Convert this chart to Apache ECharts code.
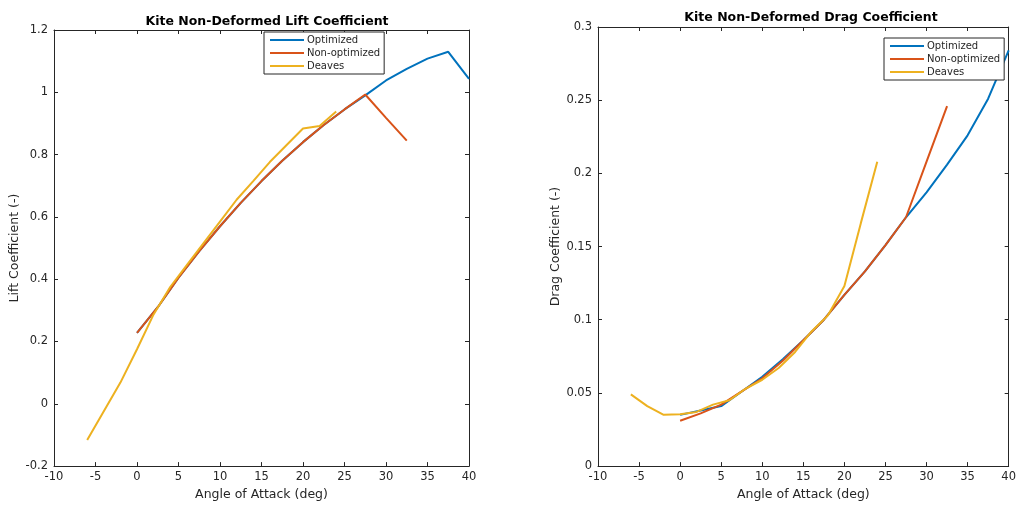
<!DOCTYPE html>
<html>
<head>
<meta charset="utf-8">
<script src="https://cdn.jsdelivr.net/npm/echarts@6/dist/echarts.min.js"></script>
<style>
  html, body { margin: 0; padding: 0; background: #fff; }
  #chart { width: 1019px; height: 506px; }
</style>
</head>
<body>
<div id="chart"></div>
<script>
// Lift coefficient (left panel)
const liftOptX = [0, 2.5, 5, 7.5, 10, 12.5, 15, 17.5, 20, 22.5, 25, 27.5, 30, 32.5, 35, 37.5, 40];
const liftOptY = [0.228, 0.31, 0.405, 0.49, 0.57, 0.645, 0.715, 0.78, 0.84, 0.895, 0.945, 0.99, 1.038, 1.075, 1.108, 1.13, 1.043];
const liftNonX = [0, 2.5, 5, 7.5, 10, 12.5, 15, 17.5, 20, 22.5, 25, 27.5, 30, 32.5];
const liftNonY = [0.228, 0.31, 0.405, 0.49, 0.57, 0.645, 0.715, 0.78, 0.84, 0.895, 0.945, 0.993, 0.918, 0.845];
const liftDeavesX = [-6, -2, 0, 2, 4, 6, 8, 10, 12, 14, 16, 18, 20, 22, 24];
const liftDeavesY = [-0.116, 0.068, 0.175, 0.287, 0.375, 0.445, 0.515, 0.585, 0.655, 0.715, 0.776, 0.83, 0.884, 0.892, 0.938];

// Drag coefficient (right panel)
const dragOptX = [0, 2.5, 5, 7.5, 10, 12.5, 15, 17.5, 20, 22.5, 25, 27.5, 30, 32.5, 35, 37.5, 40];
const dragOptY = [0.035, 0.038, 0.041, 0.051, 0.061, 0.073, 0.086, 0.1, 0.117, 0.133, 0.151, 0.17, 0.187, 0.206, 0.226, 0.251, 0.284];
const dragNonX = [0, 2.5, 5, 7.5, 10, 12.5, 15, 17.5, 20, 22.5, 25, 27.5, 30, 32.5];
const dragNonY = [0.031, 0.036, 0.042, 0.051, 0.06, 0.072, 0.086, 0.1, 0.117, 0.133, 0.151, 0.17, 0.208, 0.246];
const dragDeavesX = [-6, -4, -2, 0, 2, 4, 6, 8, 10, 12, 14, 16, 18, 20, 22, 24];
const dragDeavesY = [0.049, 0.041, 0.035, 0.0355, 0.037, 0.042, 0.045, 0.053, 0.059, 0.067, 0.078, 0.092, 0.103, 0.123, 0.166, 0.208];

const seriesNames = ['Optimized', 'Non-optimized', 'Deaves'];
const colors = ['#0072BD', '#D95319', '#EDB120'];

const titles = ['Kite Non-Deformed Lift Coefficient', 'Kite Non-Deformed Drag Coefficient'];
const yNames = ['Lift Coefficient (-)', 'Drag Coefficient (-)'];
const xName = 'Angle of Attack (deg)';

const axisColor = '#262626';
const font = 'DejaVu Sans';

const pairs = (xs, ys) => xs.map((x, i) => [x, ys[i]]);

const grids = [
    { left: 54, right: 550, top: 30, bottom: 39 },
    { left: 598, right: 6, top: 27, bottom: 36 }
];

const yRanges = [
    { min: -0.2, max: 1.2, interval: 0.2 },
    { min: 0, max: 0.3, interval: 0.05 }
];

const lineStyle = { color: axisColor, width: 1 };
const tick = { show: true, inside: true, length: 4, lineStyle: { color: axisColor } };

const xAxes = [];
const yAxes = [];
grids.forEach((g, i) => {
    // bottom axis with labels
    xAxes.push({
        gridIndex: i, type: 'value', min: -10, max: 40, interval: 5,
        name: xName, nameLocation: 'middle', nameGap: 21,
        nameTextStyle: { color: axisColor, fontFamily: font, fontSize: 12.5 },
        axisLine: { onZero: false, lineStyle: lineStyle },
        axisTick: tick,
        axisLabel: { color: axisColor, fontFamily: font, fontSize: 11.5, margin: 5 },
        splitLine: { show: false }
    });
    // top mirror axis
    xAxes.push({
        gridIndex: i, type: 'value', position: 'top', min: -10, max: 40, interval: 5,
        axisLine: { onZero: false, lineStyle: lineStyle },
        axisTick: tick,
        axisLabel: { show: false },
        splitLine: { show: false }
    });
    yAxes.push({
        gridIndex: i, type: 'value', min: yRanges[i].min, max: yRanges[i].max, interval: yRanges[i].interval,
        name: yNames[i], nameLocation: 'middle', nameGap: i === 0 ? 30 : 34,
        nameTextStyle: { color: axisColor, fontFamily: font, fontSize: 12.5 },
        axisLine: { show: true, onZero: false, lineStyle: lineStyle },
        axisTick: tick,
        axisLabel: { color: axisColor, fontFamily: font, fontSize: 11.5, margin: 6 },
        splitLine: { show: false }
    });
    // right mirror axis
    yAxes.push({
        gridIndex: i, type: 'value', position: 'right', min: yRanges[i].min, max: yRanges[i].max, interval: yRanges[i].interval,
        axisLine: { show: true, onZero: false, lineStyle: lineStyle },
        axisTick: tick,
        axisLabel: { show: false },
        splitLine: { show: false }
    });
});

const data = [
    [pairs(liftOptX, liftOptY), pairs(liftNonX, liftNonY), pairs(liftDeavesX, liftDeavesY)],
    [pairs(dragOptX, dragOptY), pairs(dragNonX, dragNonY), pairs(dragDeavesX, dragDeavesY)]
];

const series = [];
data.forEach((panel, i) => {
    panel.forEach((d, k) => {
        series.push({
            name: seriesNames[k], type: 'line', data: d,
            xAxisIndex: i * 2, yAxisIndex: i * 2,
            showSymbol: false, symbol: 'none', animation: false,
            lineStyle: { color: colors[k], width: 2 },
            itemStyle: { color: colors[k] },
            z: 2 + k
        });
    });
});

const legendBase = {
    orient: 'vertical', data: seriesNames, icon: 'rect',
    itemWidth: 34, itemHeight: 2, itemGap: 3,
    padding: [3, 4, 3, 6],
    backgroundColor: '#fff', borderColor: axisColor, borderWidth: 1,
    selectedMode: false, z: 10,
    textStyle: { color: axisColor, fontFamily: font, fontSize: 10, padding: [0, 0, 0, -2] }
};

const chart = echarts.init(document.getElementById('chart'));
chart.setOption({
    backgroundColor: '#fff',
    animation: false,
    title: [
        { text: titles[0], left: 262, top: 10, textAlign: 'center',
          textStyle: { fontFamily: font, fontSize: 12.5, fontWeight: 'bold', color: '#000' } },
        { text: titles[1], left: 806, top: 6, textAlign: 'center',
          textStyle: { fontFamily: font, fontSize: 12.5, fontWeight: 'bold', color: '#000' } }
    ],
    legend: [
        Object.assign({}, legendBase, { left: 264, top: 32 }),
        Object.assign({}, legendBase, { left: 884, top: 38 })
    ],
    grid: grids,
    xAxis: xAxes,
    yAxis: yAxes,
    series: series
});
</script>
</body>
</html>
